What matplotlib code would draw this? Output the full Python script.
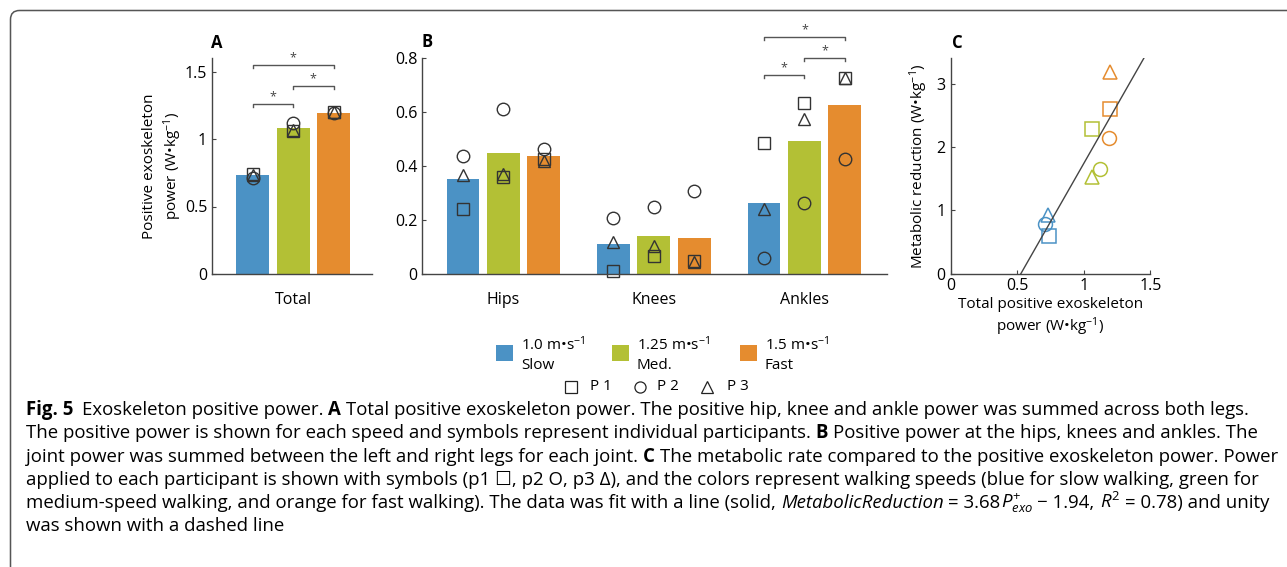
import matplotlib
matplotlib.use("Agg")
import numpy as np
import matplotlib.pyplot as plt
from matplotlib.patches import FancyBboxPatch, Rectangle
from matplotlib.lines import Line2D
from matplotlib.transforms import IdentityTransform

plt.rcParams['font.family'] = ['Open Sans', 'DejaVu Sans']
plt.rcParams['mathtext.fontset'] = 'custom'
plt.rcParams['mathtext.rm'] = 'Open Sans'
plt.rcParams['mathtext.it'] = 'Open Sans:italic'
plt.rcParams['mathtext.bf'] = 'Open Sans:bold'

# ---- data ----
speed_labels = ['1.0 m\u2022s$^{-1}$\nSlow', '1.25 m\u2022s$^{-1}$\nMed.', '1.5 m\u2022s$^{-1}$\nFast']
speed_colors = ['#4B92C5', '#B3C035', '#E58C2F']
participants = ['P 1', 'P 2', 'P 3']
markers = ['s', 'o', '^']

# A: total positive exoskeleton power (slow, med, fast)
total_mean = [0.73, 1.085, 1.195]
total_p1 = [0.74, 1.06, 1.20]
total_p2 = [0.71, 1.12, 1.19]
total_p3 = [0.73, 1.065, 1.20]
sig_A = [(0, 1, 1.26), (1, 2, 1.39), (0, 2, 1.547)]

# B: joint power, rows = joints, cols = speeds
joints = ['Hips', 'Knees', 'Ankles']
joint_mean = [[0.352, 0.448, 0.437],
              [0.111, 0.141, 0.133],
              [0.263, 0.493, 0.626]]
joint_p1 = [[0.241, 0.36, 0.425],
            [0.011, 0.067, 0.047],
            [0.484, 0.633, 0.725]]
joint_p2 = [[0.438, 0.611, 0.462],
            [0.206, 0.249, 0.307],
            [0.059, 0.264, 0.425]]
joint_p3 = [[0.367, 0.37, 0.42],
            [0.117, 0.104, 0.045],
            [0.24, 0.573, 0.725]]
sig_B = [(0, 1, 0.736), (1, 2, 0.80), (0, 2, 0.879)]  # ankles

# C: metabolic reduction vs total power
metab_p1 = [0.59, 2.29, 2.60]
metab_p2 = [0.78, 1.65, 2.14]
metab_p3 = [0.93, 1.53, 3.18]
fit_slope, fit_icpt = 3.68, -1.94

W, H = 1287, 567
fig = plt.figure(figsize=(W / 100, H / 100), dpi=100)
edge = '#333333'
axcol = '#444444'
fs = 11


def ax_at(l, t, r, b):
    return fig.add_axes([l / W, 1 - b / H, (r - l) / W, (b - t) / H])


def style(ax):
    ax.spines['top'].set_visible(False)
    ax.spines['right'].set_visible(False)
    for s in ['left', 'bottom']:
        ax.spines[s].set_color(axcol)
        ax.spines[s].set_linewidth(1.0)
    ax.tick_params(direction='in', length=3, width=0.8, colors=axcol,
                   labelcolor='black', labelsize=fs + 0.5)


def bracket(ax, x1, x2, y, tip):
    ax.plot([x1, x1, x2, x2], [y - tip, y, y, y - tip], color='#555555',
            lw=1.0, clip_on=False)
    ax.annotate('*', ((x1 + x2) / 2, y), xytext=(0, 0.5), textcoords='offset points',
                ha='center', va='bottom', fontsize=9, color='#444444',
                annotation_clip=False)


# ---- panel A ----
axA = ax_at(212, 58, 372, 274)
xa = np.arange(1, 4)
axA.bar(xa, total_mean, width=0.815, color=speed_colors)
for pts, m in zip([total_p1, total_p2, total_p3], markers):
    axA.plot(xa, pts, ls='none', marker=m, ms=9, mfc='none', mec=edge, mew=1.0)
for i, j, y in sig_A:
    bracket(axA, xa[i], xa[j], y, 0.022)
axA.set_xlim(0, 3.95)
axA.set_ylim(0, 1.6)
axA.set_yticks([0, 0.5, 1, 1.5])
axA.set_yticklabels(['0', '0.5', '1', '1.5'])
axA.set_xticks([2])
axA.set_xticklabels(['Total'])
style(axA)
axA.tick_params(axis='x', length=0, pad=13, labelsize=fs + 0.5)
axA.set_ylabel('Positive exoskeleton\npower (W\u2022kg$^{-1}$)', fontsize=fs, linespacing=1.3)
axA.yaxis.set_label_coords(-0.175, 0.5)

# ---- panel B ----
axB = ax_at(422, 58, 886.7, 274)
xg = np.arange(1, 4)
off = [-0.269, 0, 0.269]
for k in range(3):
    vals = [joint_mean[g][k] for g in range(3)]
    axB.bar(xg + off[k], vals, width=0.219, color=speed_colors[k])
    for pts, m in zip([joint_p1, joint_p2, joint_p3], markers):
        axB.plot(xg + off[k], [pts[g][k] for g in range(3)], ls='none', marker=m,
                 ms=9, mfc='none', mec=edge, mew=1.0, clip_on=False)
for i, j, y in sig_B:
    bracket(axB, xg[2] + off[i], xg[2] + off[j], y, 0.011)
axB.set_xlim(0.4585, 3.5465)
axB.set_ylim(0, 0.8)
axB.set_yticks([0, 0.2, 0.4, 0.6, 0.8])
axB.set_yticklabels(['0', '0.2', '0.4', '0.6', '0.8'])
axB.set_xticks(xg)
axB.set_xticklabels(joints)
style(axB)
axB.tick_params(axis='x', length=0, pad=13, labelsize=fs + 0.5)

# ---- panel C ----
axC = ax_at(950.7, 58.3, 1150.3, 273.7)
for xs, ys, m in zip([total_p1, total_p2, total_p3], [metab_p1, metab_p2, metab_p3], markers):
    for k in range(3):
        axC.plot(xs[k], ys[k], ls='none', marker=m, ms=10, mfc='none',
                 mec=speed_colors[k], mew=1.1)
ylimC = (0, 3.4)
fx = (np.array(ylimC) - fit_icpt) / fit_slope
axC.plot(fx, fit_slope * fx + fit_icpt, color='#444444', lw=1.0)
axC.set_xlim(0, 1.5)
axC.set_ylim(*ylimC)
axC.set_xticks([0, 0.5, 1, 1.5])
axC.set_xticklabels(['0', '0.5', '1', '1.5'])
axC.set_yticks([0, 1, 2, 3])
style(axC)
axC.tick_params(axis='x', pad=3)
axC.set_xlabel('Total positive exoskeleton\npower (W\u2022kg$^{-1}$)', fontsize=fs, labelpad=2,
               linespacing=1.25)
axC.set_ylabel('Metabolic reduction (W\u2022kg$^{-1}$)', fontsize=fs)
axC.yaxis.set_label_coords(-0.104, 0.5)

# panel letters
for lab, x, y in [('A', 217, 43), ('B', 427, 42), ('C', 957, 43)]:
    fig.text(x / W, 1 - y / H, lab, fontsize=12, fontweight='bold', ha='center', va='center')

# ---- legend ----
for k, x in enumerate([496, 612, 740]):
    fig.add_artist(Rectangle((x, H - 361), 17, 16, transform=IdentityTransform(),
                             color=speed_colors[k], lw=0))
    fig.text((x + 25) / W, 1 - 354 / H, speed_labels[k], fontsize=fs, ha='left',
             va='center', linespacing=1.4)
for m, xm, xt, lab in zip(markers, [571, 640, 707], [590, 657, 727], participants):
    fig.add_artist(Line2D([xm / W], [1 - 387 / H], transform=fig.transFigure, marker=m,
                          ms=8, mfc='none', mec='#222222', mew=0.9, ls='none'))
    fig.text(xt / W, 1 - 387 / H, lab, fontsize=fs, ha='left', va='center')

# ---- caption ----
fig.add_artist(FancyBboxPatch((10.5, -100), 1400, H - 10.5 + 100, transform=IdentityTransform(),
                              boxstyle='round,pad=0,rounding_size=9', fc='none',
                              ec='#555555', lw=1.1))

cap_lines = [
    [(0, 'Fig. 5', 'b'), (1.7, 'Exoskeleton positive power.', 'n'), (1, 'A', 'b'),
     (1, 'Total positive exoskeleton power. The positive hip, knee and ankle power was summed across both legs.', 'n')],
    [(0, 'The positive power is shown for each speed and symbols represent individual participants.', 'n'),
     (1, 'B', 'b'), (1, 'Positive power at the hips, knees and ankles. The', 'n')],
    [(0, 'joint power was summed between the left and right legs for each joint.', 'n'),
     (1, 'C', 'b'), (1, 'The metabolic rate compared to the positive exoskeleton power. Power', 'n')],
    [(0, 'applied to each participant is shown with symbols (p1 \u2610, p2 O, p3 \u0394), and the colors '
         'represent walking speeds (blue for slow walking, green for', 'n')],
    [(0, 'medium-speed walking, and orange for fast walking). The data was fit with a line (solid,', 'n'),
     (1, 'MetabolicReduction', 'i'), (1, '= 3.68', 'n'), (0, '$P^{+}_{exo}$', 'n'),
     (1, '\u2212 1.94,', 'n'), (1, '$R^{2}$', 'n'), (1, '= 0.78) and unity', 'n')],
    [(0, 'was shown with a dashed line', 'n')],
]
cap_base = [415, 438, 462, 485, 508, 531]
rend = fig.canvas.get_renderer()


def place(parts, y, size, x0=26, keep=True):
    sp = (fig.text(0, 0, 'a a', fontsize=size).get_window_extent(rend).width
          - fig.text(0, 0, 'aa', fontsize=size).get_window_extent(rend).width)
    for t in fig.texts[-2:]:
        t.remove()
    x = x0
    made = []
    for gap, txt, st in parts:
        x += gap * sp
        kw = {}
        if st == 'b':
            kw['fontweight'] = 'bold'
        if st == 'i':
            kw['fontstyle'] = 'italic'
        t = fig.text(x / W, 1 - y / H, txt, fontsize=size, ha='left', va='baseline', **kw)
        x += t.get_window_extent(rend).width
        made.append(t)
    if not keep:
        for t in made:
            t.remove()
    return x


end0 = place(cap_lines[0], cap_base[0], 10, keep=False)
cap_fs = 10 * (1245 - 26) / (end0 - 26)
for parts, y in zip(cap_lines, cap_base):
    place(parts, y, cap_fs)

fig.savefig('out.png', dpi=100)
